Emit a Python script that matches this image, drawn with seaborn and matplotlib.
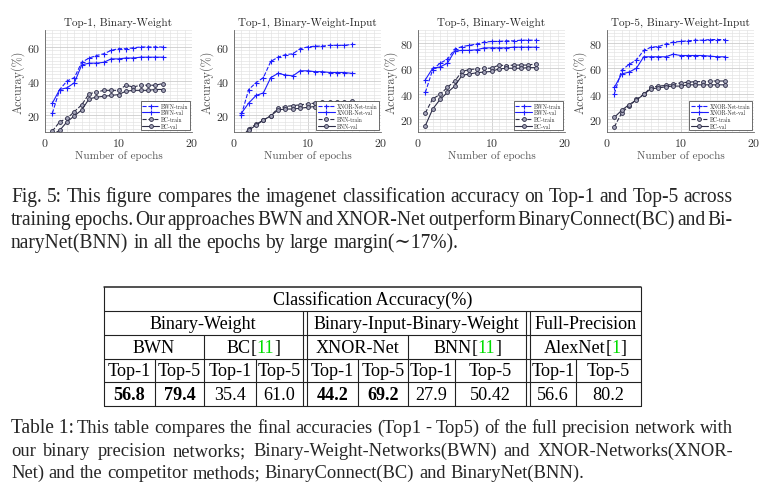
import matplotlib
matplotlib.use('Agg')
import matplotlib.pyplot as plt
from matplotlib.lines import Line2D
from matplotlib.ticker import MultipleLocator
import seaborn as sns

W, H = 774, 489

epochs = list(range(1, 17))

# Top-1, Binary-Weight
t1_bwn_train = [21, 35, 40, 42, 51, 53.5, 55, 56, 58, 59, 59, 59.5, 60, 60, 60, 60]
t1_bwn_val = [27, 35, 36, 39, 49.5, 50.5, 50.5, 51, 53, 53, 53.5, 53.5, 54, 54, 54, 54]
t1_bc_train = [10.5, 16, 18, 22, 26, 32.5, 33.5, 34.5, 34.5, 34.5, 37.5, 36.5, 37.5, 37.5, 37.5, 38.5]
t1_bc_val = [8.5, 11, 16, 19.5, 23, 29.5, 30.5, 31, 31.5, 32, 34, 34.5, 34.5, 34.5, 35, 35]

# Top-1, Binary-Weight-Input
t1_xnor_train = [20, 35, 39, 42, 51.5, 54, 55.5, 56, 59, 60, 60.5, 60.5, 61, 61, 61, 61.5]
t1_xnor_val = [21, 27, 31.5, 33, 42, 44.5, 43.5, 43, 46, 46, 45.5, 45.5, 45, 45, 45, 44.5]
t1_bnn_train = [6, 12, 14.5, 17, 19.5, 24, 25, 25.5, 26, 26.5, 27, 27.5, 27.5, 27.5, 27.5, 28]
t1_bnn_val = [5, 11, 14, 17, 19.5, 23, 23.5, 23.5, 24, 24.5, 25, 25.5, 25.5, 25.5, 25.5, 26]

# Top-5, Binary-Weight
t5_bwn_train = [41, 59, 64, 67, 75, 77, 78, 79, 80.5, 81, 81, 81.5, 81.5, 82, 82, 82]
t5_bwn_val = [51, 60, 61, 64, 73.5, 74, 74, 74.5, 76, 76, 76, 76, 76.5, 76.5, 76.5, 76.5]
t5_bc_train = [25, 36, 39.5, 45, 50, 57.5, 59, 59.5, 60, 60, 62.5, 62, 62.5, 62.5, 62.5, 63.5]
t5_bc_val = [15, 28, 35.5, 41, 46, 54.5, 55.5, 56.5, 57, 57.5, 59.5, 60, 60, 60, 60.5, 60.5]

# Top-5, Binary-Weight-Input
t5_xnor_train = [40, 58.5, 63, 66.5, 74, 76.5, 77, 79, 80.5, 81, 81.5, 82, 82, 82.5, 82.5, 82.5]
t5_xnor_val = [45, 55.5, 57, 60, 69, 69, 69, 69, 71, 70, 70, 70, 70, 69.5, 69, 69]
t5_bnn_train = [14, 25, 30.5, 35.5, 39.5, 45, 46, 46.5, 47.5, 48.5, 49, 49.5, 49.5, 50, 50, 50]
t5_bnn_val = [21.5, 27, 31.5, 35, 39.5, 44, 44.5, 45.5, 46, 46, 47, 47, 47, 47, 47, 47]

titles = ['Top-1, Binary-Weight', 'Top-1, Binary-Weight-Input',
          'Top-5, Binary-Weight', 'Top-5, Binary-Weight-Input']
legend_labels = [
    ['BWN-train', 'BWN-val', 'BC-train', 'BC-val'],
    ['XNOR-Net-train', 'XNOR-Net-val', 'BNN-train', 'BNN-val'],
    ['BWN-train', 'BWN-val', 'BC-train', 'BC-val'],
    ['XNOR-Net-train', 'XNOR-Net-val', 'BC-train', 'BC-val'],
]
panel_data = [
    [t1_bwn_train, t1_bwn_val, t1_bc_train, t1_bc_val],
    [t1_xnor_train, t1_xnor_val, t1_bnn_train, t1_bnn_val],
    [t5_bwn_train, t5_bwn_val, t5_bc_train, t5_bc_val],
    [t5_xnor_train, t5_xnor_val, t5_bnn_train, t5_bnn_val],
]

# table
groups = ['Binary-Weight', 'Binary-Input-Binary-Weight', 'Full-Precision']
methods = [('BWN', ''), ('BC', '11'), ('XNOR-Net', ''), ('BNN', '11'), ('AlexNet', '1')]
metrics = ['Top-1', 'Top-5'] * 5
table_values = ['56.8', '79.4', '35.4', '61.0', '44.2', '69.2', '27.9', '50.42', '56.6', '80.2']
value_bold = [True, True, False, False, True, True, False, False, False, False]

fig_caption = ("Fig. 5: This figure compares the imagenet classification accuracy on Top-1 and Top-5 across|"
               "training epochs. Our approaches BWN and XNOR-Net outperform BinaryConnect(BC) and Bi-|"
               "naryNet(BNN) in all the epochs by large margin(\u223c17%).")
tab_caption = ("This table compares the final accuracies (Top1 - Top5) of the full precision network with|"
               "our binary precision networks; Binary-Weight-Networks(BWN) and XNOR-Networks(XNOR-|"
               "Net) and the competitor methods; BinaryConnect(BC) and BinaryNet(BNN).")

sns.set_style('white')
plt.rcParams['font.family'] = ['cmr10', 'DejaVu Serif']
plt.rcParams['axes.formatter.use_mathtext'] = True
plt.rcParams['mathtext.fontset'] = 'cm'

SERIF = ['Liberation Serif', 'DejaVu Serif']
BLUE = '#1c1cff'
DARK = '#2d2d48'

fig = plt.figure(figsize=(W / 100, H / 100), dpi=100)


def px_axes(left, top, width, height):
    return fig.add_axes([left / W, 1 - (top + height) / H, width / W, height / H])


lefts = [45, 234, 418, 607]
for i in range(4):
    ax = px_axes(lefts[i], 31, 147, 102)
    styles = [(BLUE, '--', '+'), (BLUE, '-', '+'), (DARK, '--', 'o'), (DARK, '-', 'o')]
    for vals, lab, (c, ls, mk) in zip(panel_data[i], legend_labels[i], styles):
        if mk == '+':
            kw = dict(markersize=3.6, markeredgewidth=0.8, markeredgecolor=c)
        else:
            kw = dict(markersize=2.8, markerfacecolor='#a0a0b4', markeredgecolor=c, markeredgewidth=0.6)
        sns.lineplot(x=epochs, y=vals, ax=ax, color=c, linestyle=ls, marker=mk,
                     linewidth=0.8, label=lab, **kw)
    ax.set_xlim(0, 20)
    if i < 2:
        ax.set_ylim(10, 70)
        ax.set_yticks([20, 40, 60])
        ax.yaxis.set_minor_locator(MultipleLocator(2))
    else:
        ax.set_ylim(10, 90)
        ax.set_yticks([20, 40, 60, 80])
        ax.yaxis.set_minor_locator(MultipleLocator(2.5))
    ax.set_xticks([0, 10, 20])
    ax.xaxis.set_minor_locator(MultipleLocator(1))
    ax.grid(which='major', color='#c8c8c8', linewidth=0.55)
    ax.grid(which='minor', color='#e2e2e2', linewidth=0.45)
    ax.set_axisbelow(True)
    for s in ['top', 'right']:
        ax.spines[s].set_visible(False)
    for s in ['left', 'bottom']:
        ax.spines[s].set_color('#666666')
        ax.spines[s].set_linewidth(0.6)
    ax.tick_params(which='both', direction='in', length=0, labelsize=8.5,
                   labelcolor='#333333', pad=3)
    ax.set_title(titles[i], fontsize=8, pad=4)
    ax.set_xlabel('Number of epochs', fontsize=8, color='#555555', labelpad=1)
    ax.set_ylabel('Accuray(%)', fontsize=8.8, color='#555555', labelpad=2)
    ax.legend(loc='lower right', fontsize=4, frameon=True, fancybox=False,
              edgecolor='#333333', framealpha=1, handlelength=3, borderpad=0.3,
              labelspacing=0.15, handletextpad=0.4, borderaxespad=0.3).get_frame().set_linewidth(0.5)

renderer = fig.canvas.get_renderer()


def make_text(s, size, **kw):
    return fig.text(0, 0, s, fontsize=size, family=SERIF, va='baseline', **kw)


def width_of(t):
    return t.get_window_extent(renderer).width


def fit_size(line, span, size0=12):
    t = make_text(line, size0)
    w = width_of(t)
    t.remove()
    return size0 * span / w


def put_line(words, x0, x1, y, size, justify):
    texts = [make_text(w, size) for w in words]
    widths = [width_of(t) for t in texts]
    if justify and len(words) > 1:
        gap = (x1 - x0 - sum(widths)) / (len(words) - 1)
    else:
        gap = size * 0.25 * 100 / 72
    x = x0
    for t, w in zip(texts, widths):
        t.set_position((x / W, 1 - y / H))
        x += w + gap


def put_center(parts, cx, y, size):
    texts = [make_text(s, size, color=c, weight=wt) for s, c, wt in parts]
    widths = [width_of(t) for t in texts]
    x = cx - sum(widths) / 2
    for t, w in zip(texts, widths):
        t.set_position((x / W, 1 - y / H))
        x += w


# figure caption
lines = fig_caption.split('|')
cs = fit_size(lines[0], 733 - 11)
for k, (ln, yb) in enumerate(zip(lines, [202, 225, 248])):
    put_line(ln.split(' '), 11, 733, yb, cs, k < len(lines) - 1)

# table
rows = [288, 312, 336, 359.5, 383, 407]
cells = [(104, 155), (155, 204), (204, 256), (256, 302.5), (306.5, 358), (358, 408),
         (408, 455), (455, 526), (529.5, 576), (576, 641)]


def hline(y, x0, x1, lw=0.8):
    fig.add_artist(Line2D([x0 / W, x1 / W], [1 - y / H, 1 - y / H], color='#222222', lw=lw))


def vline(x, y0, y1, lw=0.8):
    fig.add_artist(Line2D([x / W, x / W], [1 - y0 / H, 1 - y1 / H], color='#222222', lw=lw))


hline(rows[0], 104, 641, 1.1)
for y in rows[1:]:
    hline(y, 104, 641)
vline(104, rows[0], rows[5])
vline(641, rows[0], rows[5])
for x in [302.5, 306.5, 526, 529.5]:
    vline(x, rows[1], rows[5])
for x in [204, 408]:
    vline(x, rows[2], rows[5])
for x in [155, 256, 358, 455, 576]:
    vline(x, rows[3], rows[5])

TS = 13.1
GREEN = '#00dd00'
centers = [(a + b) / 2 for a, b in zip(rows[:-1], rows[1:])]
put_center([('Classification Accuracy(%)', 'black', 'normal')], (104 + 641) / 2, centers[0] + 5, TS)
group_spans = [(0, 3), (4, 7), (8, 9)]
for g, (a, b) in zip(groups, group_spans):
    put_center([(g, 'black', 'normal')], (cells[a][0] + cells[b][1]) / 2, centers[1] + 5, TS)
for m, (name, ref) in enumerate(methods):
    cx = (cells[2 * m][0] + cells[2 * m + 1][1]) / 2
    parts = [(name, 'black', 'normal')]
    if ref:
        parts += [('[', 'black', 'normal'), (ref, GREEN, 'normal'), (']', 'black', 'normal')]
    put_center(parts, cx, centers[2] + 5, TS)
for c, (lab, val, bd) in enumerate(zip(metrics, table_values, value_bold)):
    cx = (cells[c][0] + cells[c][1]) / 2
    put_center([(lab, 'black', 'normal')], cx, centers[3] + 5, TS)
    put_center([(val, 'black', 'bold' if bd else 'normal')], cx, centers[4] + 5, TS)

# table caption
lines = tab_caption.split('|')
lab = make_text('Table 1:', cs)
lab.set_position((11 / W, 1 - 433 / H))
x_first = 11 + width_of(lab) + 3
ts = fit_size(lines[0], 733 - x_first)
for k, (ln, yb) in enumerate(zip(lines, [433, 456, 478])):
    x0 = x_first if k == 0 else 11
    put_line(ln.split(' '), x0, 733, yb, ts, k < len(lines) - 1)

fig.savefig('out.png', dpi=100)
